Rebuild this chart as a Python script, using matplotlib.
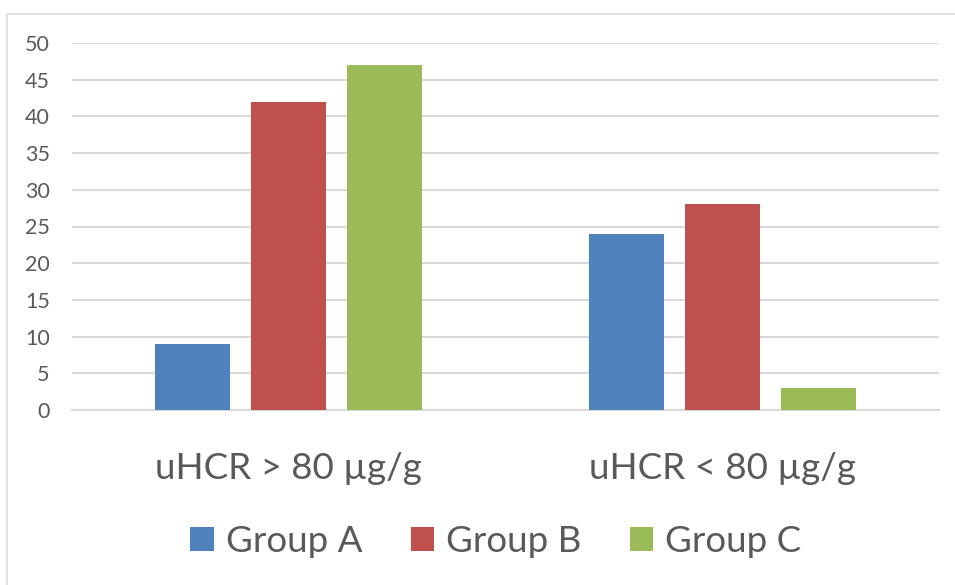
import matplotlib
matplotlib.use("Agg")
import matplotlib.pyplot as plt
import numpy as np
from matplotlib.patches import Rectangle

categories = ["uHCR > 80 µg/g", "uHCR < 80 µg/g"]
series_names = ["Group A", "Group B", "Group C"]
group_a = [9, 24]
group_b = [42, 28]
group_c = [47, 3]
yticks = [0, 5, 10, 15, 20, 25, 30, 35, 40, 45, 50]

colors = ["#4F81BD", "#C0504D", "#9BBB59"]
text_color = "#595959"
grid_color = "#D9D9D9"

plt.rcParams['font.family'] = ['Lato', 'DejaVu Sans']

fig = plt.figure(figsize=(9.55, 5.85), dpi=100)
fig.patches.append(Rectangle((7/955, -0.1), 1.2, 1 - 14/585 + 0.1, transform=fig.transFigure,
                             fill=False, edgecolor=grid_color, linewidth=1.2))
ax = fig.add_axes([72/955, 1 - 410/585, (939 - 72)/955, (410 - 43)/585])

x = np.arange(len(categories))
width = 0.173
step = 0.221
for i, (vals, name) in enumerate(zip([group_a, group_b, group_c], series_names)):
    ax.bar(x + (i - 1) * step, vals, width, color=colors[i], label=name, zorder=3)

ax.set_xlim(-0.5, 1.5)
ax.set_ylim(0, 50)
ax.set_yticks(yticks)
ax.yaxis.grid(True, color=grid_color, linewidth=1.5, zorder=0)
ax.set_axisbelow(True)
for s in ["top", "right", "left"]:
    ax.spines[s].set_visible(False)
ax.spines["bottom"].set_color(grid_color)
ax.spines["bottom"].set_linewidth(1.5)
ax.tick_params(axis="y", length=0, pad=16, labelsize=15.5, labelcolor=text_color)
ax.tick_params(axis="x", length=0, pad=30, labelsize=26.5, labelcolor=text_color)
ax.set_xticks(x)
ax.set_xticklabels(categories)

leg = fig.legend(loc="center", bbox_to_anchor=(496/955, 1 - 541/585), ncol=3, frameon=False,
                 fontsize=26.5, handlelength=0.63, handleheight=0.63, handletextpad=0.33,
                 columnspacing=1.32, labelcolor=text_color)

fig.savefig("out.png", dpi=100)
